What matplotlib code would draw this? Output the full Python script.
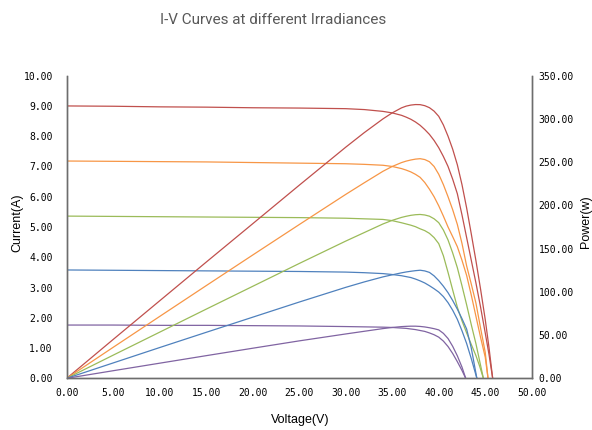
import numpy as np
import matplotlib.pyplot as plt
from matplotlib.ticker import FormatStrFormatter, MultipleLocator

# I-V and P-V data, one set per irradiance level
v_red = [0, 5, 10, 15, 20, 25, 30, 32, 34, 35, 36, 36.5, 37, 37.5, 38, 38.5, 39, 39.5, 40, 40.5,
         41, 41.5, 42, 42.5, 43, 43.5, 44, 44.5, 45, 45.4, 45.8]
i_red = [9.00, 8.99, 8.97, 8.96, 8.94, 8.93, 8.91, 8.88, 8.82, 8.77, 8.69, 8.63, 8.56, 8.47, 8.36,
         8.22, 8.06, 7.86, 7.62, 7.33, 7.00, 6.58, 6.10, 5.40, 4.65, 3.90, 3.15, 2.35, 1.50, 0.80, 0.00]
p_red = [0, 45.0, 89.7, 134.4, 178.8, 223.3, 267.3, 284.2, 300.0, 307.0, 312.8, 314.8, 316.0, 316.6,
         316.5, 315.3, 313.0, 309.0, 303.0, 293.0, 280.0, 265.0, 247.0, 224.0, 197.0, 167.0, 136.0,
         103.0, 68.0, 36.0, 0]

v_org = [0, 5, 10, 15, 20, 25, 30, 32, 34, 35, 36, 36.5, 37, 37.5, 38, 38.5, 39, 39.5, 40, 40.5,
         41, 41.5, 42, 42.5, 43, 43.5, 44, 44.5, 45, 45.3]
i_org = [7.18, 7.17, 7.16, 7.15, 7.13, 7.11, 7.09, 7.07, 7.04, 7.00, 6.93, 6.88, 6.82, 6.74, 6.64,
         6.47, 6.25, 6.00, 5.70, 5.36, 5.00, 4.68, 4.35, 3.90, 3.40, 2.75, 2.05, 1.35, 0.70, 0.00]
p_org = [0, 35.9, 71.6, 107.2, 142.6, 177.8, 212.7, 226.2, 239.4, 245.0, 249.5, 251.2, 252.5, 253.5,
         254.0, 253.0, 250.5, 245.0, 236.0, 224.0, 210.0, 195.0, 178.0, 156.0, 130.0, 109.0, 87.0,
         58.0, 30.0, 0]

v_grn = [0, 5, 10, 15, 20, 25, 30, 32, 34, 35, 36, 36.5, 37, 37.5, 38, 38.5, 39, 39.5, 40, 40.5,
         41, 41.5, 42, 42.5, 43, 43.5, 44, 44.4, 44.8]
i_grn = [5.36, 5.35, 5.34, 5.33, 5.32, 5.31, 5.29, 5.27, 5.25, 5.21, 5.14, 5.10, 5.06, 5.01, 4.94,
         4.88, 4.79, 4.65, 4.45, 4.05, 3.50, 2.92, 2.35, 1.90, 1.50, 1.12, 0.75, 0.40, 0.00]
p_grn = [0, 26.8, 53.4, 80.0, 106.4, 132.8, 158.7, 168.6, 178.5, 182.7, 186.1, 187.4, 188.5, 189.2,
         189.5, 188.9, 187.5, 184.5, 180.0, 171.5, 160.0, 145.0, 128.0, 107.0, 85.0, 62.0, 40.0,
         20.0, 0]

v_blu = [0, 5, 10, 15, 20, 25, 30, 32, 34, 35, 36, 36.5, 37, 37.5, 38, 38.5, 39, 39.5, 40, 40.5,
         41, 41.5, 42, 42.5, 43, 43.5, 44.1]
i_blu = [3.58, 3.57, 3.56, 3.55, 3.54, 3.53, 3.51, 3.49, 3.46, 3.43, 3.39, 3.36, 3.33, 3.28, 3.22,
         3.15, 3.06, 2.96, 2.85, 2.70, 2.50, 2.25, 1.95, 1.57, 1.15, 0.65, 0.00]
p_blu = [0, 17.8, 35.6, 53.2, 70.7, 88.2, 105.2, 111.5, 117.3, 119.7, 122.0, 123.0, 123.8, 124.5,
         125.0, 124.2, 122.5, 118.5, 113.0, 106.5, 99.0, 90.0, 80.0, 69.0, 57.0, 35.0, 0]

v_pur = [0, 5, 10, 15, 20, 25, 30, 32, 34, 35, 36, 36.5, 37, 37.5, 38, 38.5, 39, 39.5, 40, 40.5,
         41, 41.5, 42, 42.5, 42.9]
i_pur = [1.76, 1.76, 1.75, 1.75, 1.74, 1.73, 1.71, 1.70, 1.69, 1.68, 1.66, 1.65, 1.63, 1.61, 1.58,
         1.55, 1.50, 1.44, 1.36, 1.23, 1.05, 0.82, 0.55, 0.26, 0.00]
p_pur = [0, 8.8, 17.5, 26.2, 34.8, 43.3, 51.3, 54.4, 57.5, 58.8, 59.8, 60.1, 60.3, 60.3, 60.0,
         59.4, 58.5, 57.4, 56.0, 52.0, 46.0, 37.0, 26.0, 13.0, 0]

curves = [
    (v_red, i_red, p_red, '#C0504D'),
    (v_org, i_org, p_org, '#F79646'),
    (v_grn, i_grn, p_grn, '#9BBB59'),
    (v_blu, i_blu, p_blu, '#4F81BD'),
    (v_pur, i_pur, p_pur, '#8064A2'),
]

fig = plt.figure(figsize=(5.92, 4.30), dpi=100)
ax = fig.add_axes([0.1127, 0.1202, 0.7855, 0.7038])
ax2 = ax.twinx()

for v, i, p, c in curves:
    ax.plot(v, i, color=c, lw=0.9)
    ax2.plot(v, p, color=c, lw=0.9)

ax.set_xlim(0, 50)
ax.set_ylim(0, 10)
ax2.set_ylim(0, 350)
ax.xaxis.set_major_locator(MultipleLocator(5))
ax.yaxis.set_major_locator(MultipleLocator(1))
ax2.yaxis.set_major_locator(MultipleLocator(50))
for a in (ax.xaxis, ax.yaxis, ax2.yaxis):
    a.set_major_formatter(FormatStrFormatter('%.2f'))

for lab in ax.get_xticklabels() + ax.get_yticklabels() + ax2.get_yticklabels():
    lab.set_fontfamily('DejaVu Sans Mono')
    lab.set_fontsize(7)
ax.tick_params(axis='x', length=0, pad=7)
ax.tick_params(axis='y', length=0, pad=10)
ax2.tick_params(axis='y', length=0, pad=5)

for a in (ax, ax2):
    a.spines['top'].set_visible(False)
    for s in ('left', 'right', 'bottom'):
        a.spines[s].set_color('#6d6d6d')
        a.spines[s].set_linewidth(1.0)

fig.text(300 / 592, 1 - 420 / 430, 'Voltage(V)', ha='center', va='center', fontsize=9,
         family='Liberation Sans')
fig.text(17.5 / 592, 1 - 223 / 430, 'Current(A)', ha='center', va='center', fontsize=9,
         rotation=90, family='Liberation Sans')
fig.text(586 / 592, 1 - 222 / 430, 'Power(w)', ha='center', va='center', fontsize=9,
         rotation=90, family='Liberation Sans')
fig.text(273 / 592, 1 - 20 / 430, 'I-V Curves at different Irradiances', ha='center',
         va='center', fontsize=11, color='#595959', family=['Roboto', 'DejaVu Sans'])

fig.savefig('out.png', dpi=100)
